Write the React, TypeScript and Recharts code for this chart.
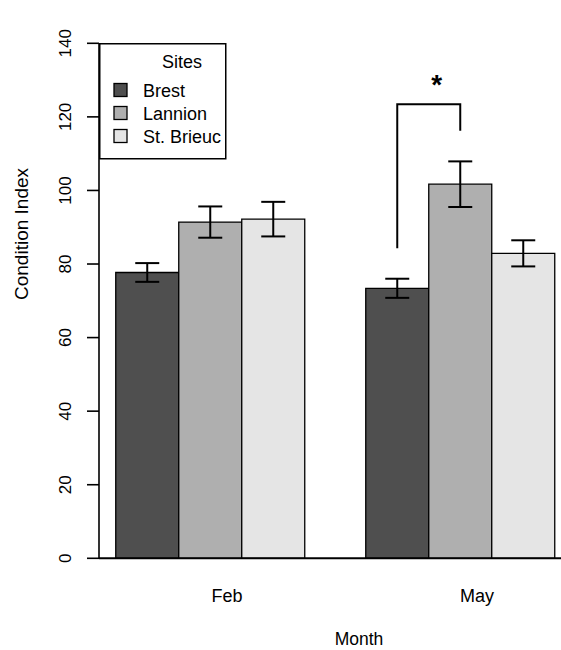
import React from "react";
import {
  BarChart,
  Bar,
  XAxis,
  YAxis,
  ErrorBar,
  Legend,
  ReferenceLine,
  Rectangle,
} from "recharts";

const months = ["Feb", "May"];
const sites = ["Brest", "Lannion", "St. Brieuc"];
const brest = [77.7, 73.4];
const brestSe = [2.55, 2.6];
const lannion = [91.4, 101.7];
const lannionSe = [4.25, 6.2];
const stBrieuc = [92.2, 82.9];
const stBrieucSe = [4.7, 3.55];
const yTicks = [0, 20, 40, 60, 80, 100, 120, 140];

// significance bracket between Brest and Lannion in May
const sigMonth = "May";
const sigLeftLow = 84.3;
const sigTop = 123.4;
const sigRightLow = 116.2;
const sigStarAt = 130;
const sigLabel = "*";

const FONT = "'Liberation Sans', Arial, sans-serif";
const colors = ["#4f4f4f", "#afafaf", "#e5e5e5"];

const data = months.map((m, i) => ({
  month: m,
  brest: brest[i],
  brestSe: brestSe[i],
  lannion: lannion[i],
  lannionSe: lannionSe[i],
  stBrieuc: stBrieuc[i],
  stBrieucSe: stBrieucSe[i],
}));

// eslint-disable-next-line @typescript-eslint/no-explicit-any
function BrestShape(props: any) {
  const { x, y, width, height, payload } = props;
  const rect = <Rectangle {...props} />;
  if (payload.month !== sigMonth) return rect;
  const perUnit = height / payload.brest;
  const base = y + height;
  const yv = (v: number) => base - v * perUnit;
  const cx1 = x + width / 2;
  const cx2 = x + width * 1.5;
  return (
    <g>
      {rect}
      <path
        d={`M${cx1},${yv(sigLeftLow)}V${yv(sigTop)}H${cx2}V${yv(sigRightLow)}`}
        fill="none"
        stroke="#000"
        strokeWidth={2}
      />
      <text
        x={(cx1 + cx2) / 2 + 8}
        y={yv(sigStarAt) + 14}
        textAnchor="middle"
        fontSize={28}
        fontWeight="bold"
        fontFamily={FONT}
      >
        {sigLabel}
      </text>
    </g>
  );
}

// eslint-disable-next-line @typescript-eslint/no-explicit-any
function YTick({ x, y, payload }: any) {
  const tx = x - 21;
  return (
    <text
      x={tx}
      y={y}
      transform={`rotate(-90, ${tx}, ${y})`}
      textAnchor="middle"
      dominantBaseline="central"
      fontSize={17}
      fontFamily={FONT}
      fill="#000"
    >
      {payload.value}
    </text>
  );
}

// eslint-disable-next-line @typescript-eslint/no-explicit-any
function XTick({ x, y, payload }: any) {
  return (
    <text
      x={x + 17.5}
      y={y + 44}
      textAnchor="middle"
      fontSize={18}
      fontFamily={FONT}
      fill="#000"
    >
      {payload.value}
    </text>
  );
}

// eslint-disable-next-line @typescript-eslint/no-explicit-any
function SitesLegend({ payload }: any) {
  const items = payload || [];
  return (
    <svg width={128} height={117} style={{ display: "block" }}>
      <rect x={0.75} y={0.75} width={126} height={115} fill="#fff" stroke="#000" strokeWidth={1.5} />
      <text x={63} y={25} fontSize={18} fontFamily={FONT}>
        Sites
      </text>
      {items.map((it: any, i: number) => {
        const cy = 47 + i * 23;
        return (
          <g key={it.value}>
            <rect x={15} y={cy - 6.5} width={13} height={13} fill={it.color} stroke="#000" strokeWidth={1.3} />
            <text x={44} y={cy + 6.5} fontSize={18} fontFamily={FONT}>
              {it.value}
            </text>
          </g>
        );
      })}
    </svg>
  );
}

export default function App() {
  return (
    <div style={{ position: "absolute", left: 0, top: 0, width: 561, height: 650, background: "#fff", fontFamily: FONT }}>
      <BarChart
        width={561}
        height={650}
        data={data}
        margin={{ top: 43.3, right: 0, bottom: 31.7, left: 0 }}
        barCategoryGap={31.25}
        barGap={0}
      >
        <XAxis
          dataKey="month"
          axisLine={false}
          tickLine={false}
          tickSize={0}
          tickMargin={0}
          height={60}
          padding={{ left: -14.5, right: -23.5 }}
          tick={<XTick />}
          label={{
            content: () => (
              <text x={359} y={645} textAnchor="middle" fontSize={17.5} fontFamily={FONT} fill="#000">
                Month
              </text>
            ),
          }}
        />
        <YAxis
          width={99}
          domain={[0, 140]}
          ticks={yTicks}
          interval={0}
          allowDataOverflow
          axisLine={{ stroke: "#000", strokeWidth: 1.6 }}
          tickLine={{ stroke: "#000", strokeWidth: 1.6 }}
          tickSize={12}
          tickMargin={0}
          tick={<YTick />}
          label={{
            content: () => (
              <text
                x={21}
                y={234}
                transform="rotate(-90, 21, 234)"
                textAnchor="middle"
                dominantBaseline="central"
                fontSize={19}
                fontFamily={FONT}
                fill="#000"
              >
                Condition Index
              </text>
            ),
          }}
        />
        <Legend
          layout="vertical"
          align="center"
          verticalAlign="middle"
          content={<SitesLegend />}
          wrapperStyle={{ position: "absolute", left: 99, top: 43, width: 128, height: 117 }}
        />
        <Bar
          dataKey="brest"
          name={sites[0]}
          fill={colors[0]}
          stroke="#000"
          strokeWidth={1.3}
          shape={<BrestShape />}
          isAnimationActive={false}
        >
          <ErrorBar dataKey="brestSe" width={12} stroke="#000" strokeWidth={2} isAnimationActive={false} />
        </Bar>
        <Bar
          dataKey="lannion"
          name={sites[1]}
          fill={colors[1]}
          stroke="#000"
          strokeWidth={1.3}
          isAnimationActive={false}
        >
          <ErrorBar dataKey="lannionSe" width={12} stroke="#000" strokeWidth={2} isAnimationActive={false} />
        </Bar>
        <Bar
          dataKey="stBrieuc"
          name={sites[2]}
          fill={colors[2]}
          stroke="#000"
          strokeWidth={1.3}
          isAnimationActive={false}
        >
          <ErrorBar dataKey="stBrieucSe" width={12} stroke="#000" strokeWidth={2} isAnimationActive={false} />
        </Bar>
        <ReferenceLine y={0} stroke="#000" strokeWidth={2} ifOverflow="visible" />
      </BarChart>
    </div>
  );
}
